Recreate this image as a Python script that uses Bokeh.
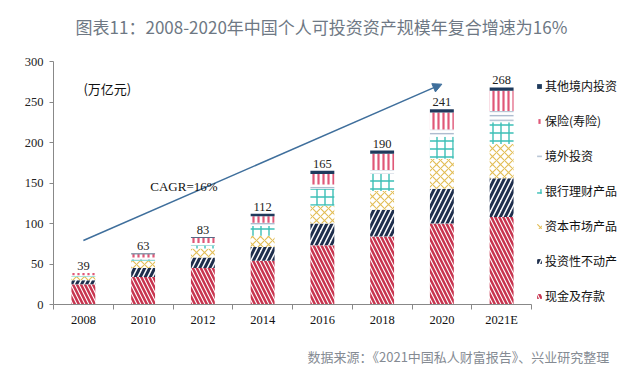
from bokeh.plotting import figure
from bokeh.models import (Range1d, FixedTicker, Legend, LegendItem, Label, Arrow,
                          NormalHead, ColumnDataSource, Title)
from bokeh.core.properties import value
from bokeh.embed import file_html
from bokeh.resources import INLINE

# ---------------- data ----------------
years = ["2008", "2010", "2012", "2014", "2016", "2018", "2020", "2021E"]
cash = [25, 34, 45, 54, 73, 84, 100, 108]
real_estate = [5, 11, 13, 17, 27, 33, 43, 48]
capital_market = [4, 9, 11, 14, 22, 23, 37, 42]
bank_wealth = [1, 2, 4, 12, 21, 21, 27, 27]
overseas = [1, 2, 3, 4, 5, 5, 9, 14]
insurance = [3, 4, 6, 8, 13, 20, 21, 25]
other = [0, 1, 1, 3, 4, 4, 4, 4]
totals = [39, 63, 83, 112, 165, 190, 241, 268]
series_names = ["现金及存款", "投资性不动产", "资本市场产品", "银行理财产品",
                "境外投资", "保险(寿险)", "其他境内投资"]
y_ticks = [0, 50, 100, 150, 200, 250, 300]
y_max = 300

title_text = "图表11：2008-2020年中国个人可投资资产规模年复合增速为16%"
source_text = "数据来源：《2021中国私人财富报告》、兴业研究整理"
unit_text = "(万亿元)"
cagr_text = "CAGR=16%"

# ---------------- layout constants (pixels) ----------------
W, H = 640, 387
frame_left, frame_bottom = 53, 304
px_per_cat = 59.75          # horizontal pixels per category slot
px_per_unit = 243.0 / y_max  # vertical pixels per value unit

x_end = -0.5 + (W - frame_left) / px_per_cat
y_end = frame_bottom / px_per_unit

# ---------------- build ----------------
xs = list(range(len(years)))
keys = ["cash", "real_estate", "capital_market", "bank_wealth", "overseas", "insurance", "other"]
src = ColumnDataSource(dict(x=xs, cash=cash, real_estate=real_estate,
                            capital_market=capital_market, bank_wealth=bank_wealth,
                            overseas=overseas, insurance=insurance, other=other,
                            total=totals, label=[str(t) for t in totals]))

p = figure(width=W, height=H, output_backend="svg", toolbar_location=None, title=None,
           x_range=Range1d(-0.5, x_end), y_range=Range1d(0, y_end),
           min_border_left=frame_left, min_border_right=0, min_border_top=0,
           min_border_bottom=H - frame_bottom)

p.outline_line_color = None
p.xgrid.visible = False
p.ygrid.visible = False
p.background_fill_color = "white"

red = "#c8344f"
navy = "#1f2f4d"
gold = "#e2bd55"
teal = "#3cbfb6"
grey_blue = "#9fb0c6"
pink = "#e05878"
dark = "#1f3a5c"

renderers = p.vbar_stack(
    keys, x="x", width=0.4, source=src,
    fill_color=["white"] * 6 + [dark],
    hatch_pattern=["\\", "/", "x", "+", "-", "|", " "],
    hatch_color=[red, navy, gold, teal, grey_blue, pink, dark],
    hatch_scale=[8, 10, 8, 8, 4.5, 5, 8],
    hatch_weight=[2.5, 3, 1.1, 1.4, 1.2, 2.2, 1],
    line_color=None,
)

p.text(x="x", y="total", text="label", source=src, text_align="center",
       text_baseline="bottom", y_offset=-3, text_font=value("Liberation Serif"),
       text_font_size=value("12.5px"), text_color="#222222")

# axes
xa = p.xaxis[0]
xa.bounds = (-0.5, len(years) - 0.5)
xa.ticker = FixedTicker(ticks=xs, minor_ticks=[i - 0.5 for i in range(len(years) + 1)])
xa.major_label_overrides = {i: y for i, y in zip(xs, years)}
xa.major_tick_out = 0
xa.major_tick_in = 0
xa.minor_tick_out = 5
xa.minor_tick_in = 0
xa.minor_tick_line_color = "#888888"
xa.axis_line_color = "#888888"
xa.major_label_text_font = "Liberation Serif"
xa.major_label_text_font_size = "12.5px"
xa.major_label_text_font_style = "normal"
xa.major_label_text_color = "#111111"
xa.major_label_standoff = 3

ya = p.yaxis[0]
ya.bounds = (0, y_max)
ya.ticker = FixedTicker(ticks=y_ticks, minor_ticks=[])
ya.major_tick_out = 4
ya.major_tick_in = 0
ya.major_tick_line_color = "#888888"
ya.axis_line_color = "#888888"
ya.major_label_text_font = "Liberation Serif"
ya.major_label_text_font_size = "12.5px"
ya.major_label_text_color = "#222222"
ya.major_label_standoff = 6

# source note below
src_title = Title(text=source_text, align="left", offset=254,
                  text_font="Noto Sans CJK SC", text_font_size="13px",
                  text_font_style="normal", text_color="#858b93", standoff=30)
p.add_layout(src_title, "below")

# title (inside the tall frame, above the plotted area)
title_pos = (3.985, 343)
p.add_layout(Label(x=title_pos[0], y=title_pos[1], text=title_text,
                   text_font="Noto Sans CJK SC", text_font_size="17px",
                   text_align="center", text_baseline="middle", text_color="#6e7884"))

# arrow + annotations
arrow_from = (0, 79)
arrow_to = (6, 272)
col = "#3f6f9c"
p.add_layout(Arrow(x_start=arrow_from[0], y_start=arrow_from[1], x_end=arrow_to[0],
                   y_end=arrow_to[1], line_color=col, line_width=1.5,
                   end=NormalHead(size=9, fill_color=col, line_color=col)))

p.add_layout(Label(x=0, y=267, text=unit_text, text_font="Noto Sans CJK SC",
                   text_font_size="13px", text_baseline="middle", text_color="#111111"))
p.add_layout(Label(x=1.12, y=146, text=cagr_text, text_font="Liberation Serif",
                   text_font_size="13px", text_baseline="middle", text_color="#111111"))

items = [LegendItem(label=n, renderers=[r]) for n, r in zip(series_names, renderers)]
legend = Legend(items=list(reversed(items)), location=(483, 0), glyph_width=6,
                glyph_height=6, label_text_font="Noto Sans CJK SC",
                label_text_font_size="12px", label_height=16, spacing=18,
                padding=0, margin=0, border_line_color=None,
                background_fill_alpha=0, label_standoff=3, label_text_color="#111111")
p.add_layout(legend)

open("out.html", "w").write(file_html(p, INLINE))
